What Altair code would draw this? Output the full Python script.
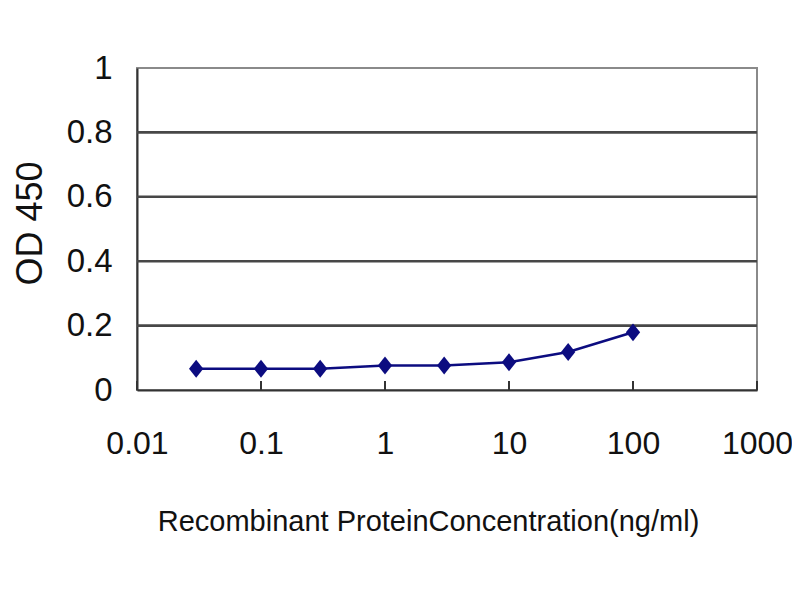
import altair as alt
import pandas as pd

# Data
conc = [0.03, 0.1, 0.3, 1, 3, 10, 30, 100]
od450 = [0.066, 0.066, 0.066, 0.076, 0.076, 0.086, 0.118, 0.179]
x_ticks = [0.01, 0.1, 1, 10, 100, 1000]
y_ticks = [0, 0.2, 0.4, 0.6, 0.8, 1]
grid_vals = [0.2, 0.4, 0.6, 0.8]

W, H = 620, 322
FONT = "Liberation Sans"

df = pd.DataFrame({"conc": conc, "od": od450})
grid_df = pd.DataFrame({"g": grid_vals})
tick_df = pd.DataFrame({"t": x_ticks})

xscale = alt.Scale(type="log", domain=[0.01, 1000])
yscale = alt.Scale(domain=[0, 1])

x_axis = alt.Axis(
    values=x_ticks,
    format="~g",
    title="Recombinant ProteinConcentration(ng/ml)",
    grid=False,
    ticks=False,
    domainColor="#333333",
    domainWidth=2,
    labelFont=FONT,
    labelFontSize=32,
    labelColor="#111111",
    labelPadding=38,
    labelFlush=False,
    labelOverlap=False,
    titleFont=FONT,
    titleFontSize=29,
    titleFontWeight="normal",
    titleColor="#111111",
    titleX=291,
    titleY=117,
    titleAlign="center",
    titleBaseline="top",
)

y_axis = alt.Axis(
    values=y_ticks,
    format="~g",
    title="OD 450",
    grid=False,
    ticks=False,
    domainColor="#333333",
    domainWidth=2,
    labelFont=FONT,
    labelFontSize=33,
    labelColor="#111111",
    labelPadding=25,
    labelFlush=False,
    labelOverlap=False,
    titleFont=FONT,
    titleFontSize=36,
    titleFontWeight="normal",
    titleColor="#111111",
    titleAngle=270,
    titleX=-107,
    titleY=H / 2 - 6,
    titleAlign="center",
    titleBaseline="middle",
)

grid = alt.Chart(grid_df).mark_rule(color="#474747", strokeWidth=2.6).encode(
    y=alt.Y("g:Q", scale=yscale, axis=y_axis)
)

xt = alt.Chart(tick_df).mark_rule(color="#333333", strokeWidth=2).encode(
    x=alt.X("t:Q", scale=xscale, axis=x_axis),
    y=alt.value(H),
    y2=alt.value(H - 9),
)

line = alt.Chart(df).mark_line(color="#0c0c80", strokeWidth=2.6).encode(
    x=alt.X("conc:Q", scale=xscale, axis=x_axis),
    y=alt.Y("od:Q", scale=yscale, axis=y_axis),
)

points = alt.Chart(df).mark_point(
    shape="M0,-1L0.8,0L0,1L-0.8,0Z",
    size=320,
    filled=True,
    color="#0c0c80",
    opacity=1,
).encode(
    x=alt.X("conc:Q", scale=xscale, axis=x_axis),
    y=alt.Y("od:Q", scale=yscale, axis=y_axis),
)

chart = (
    alt.layer(grid, xt, line, points)
    .properties(
        width=W,
        height=H,
        autosize=alt.AutoSizeParams(type="none"),
        padding={"left": 129, "top": 60, "right": 35, "bottom": 202},
        background="white",
    )
    .configure_view(stroke="#8a8a8a", strokeWidth=2)
)

chart.save("out.html", embed_options={"renderer": "svg", "actions": False})
